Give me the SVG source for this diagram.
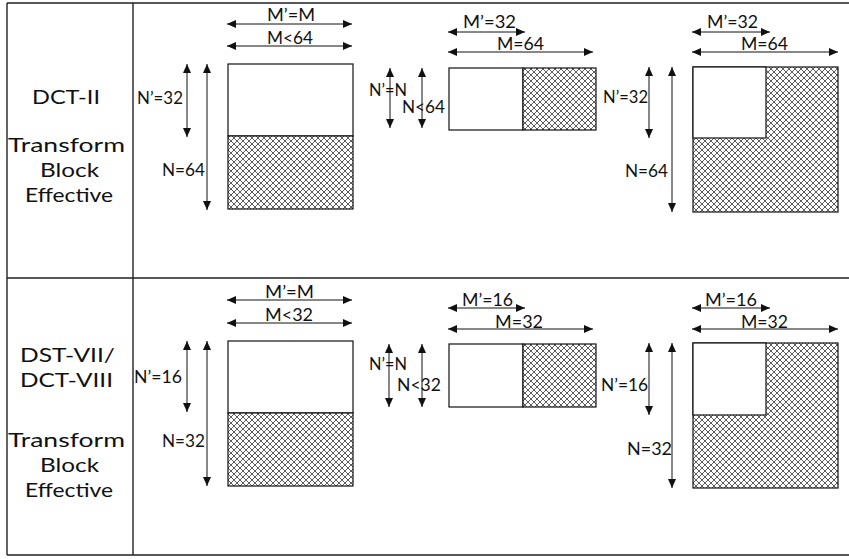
<svg xmlns="http://www.w3.org/2000/svg" width="849" height="559" viewBox="0 0 849 559">
<style>
.grid{stroke:#222;stroke-width:1.4;fill:none}
.blk{stroke:#111;stroke-width:1.2}
.wht{fill:#fff}
.hat{fill:url(#hatch)}
.dim{stroke:#111;stroke-width:1;fill:none;marker-start:url(#ah);marker-end:url(#ah)}
.lbl{font-family:Lato,"Open Sans","Liberation Sans",sans-serif;font-size:16.5px;fill:#111}
.side{font-family:Lato,"Open Sans","Liberation Sans",sans-serif;font-size:20px;fill:#111}
</style>
<defs>
<pattern id="hatch" patternUnits="userSpaceOnUse" width="6" height="6">
<rect width="6" height="6" fill="#fff"/>
<path d="M0,0 L6,6 M6,0 L0,6" stroke="#333" stroke-width="0.8"/>
</pattern>
<marker id="ah" markerUnits="userSpaceOnUse" markerWidth="10" markerHeight="9" refX="9" refY="4" orient="auto-start-reverse">
<path d="M0,0 L9,4 L0,8 z" fill="#111"/>
</marker>
</defs>
<rect width="849" height="559" fill="#fff"/>
<g id="table">
<path class="grid" d="M7,3 H849 M7,278 H849 M7,555 H849 M7,3 V555 M133,3 V555"/>
</g>
<g id="row1-label">
<text class="side" x="32" y="104" textLength="68" lengthAdjust="spacingAndGlyphs">DCT-II</text>
<text class="side" x="8" y="152" textLength="117" lengthAdjust="spacingAndGlyphs">Transform</text>
<text class="side" x="40" y="177" textLength="59" lengthAdjust="spacingAndGlyphs">Block</text>
<text class="side" x="25" y="202" textLength="88" lengthAdjust="spacingAndGlyphs">Effective</text>
</g>
<g id="row2-label">
<text class="side" x="20" y="362" textLength="95" lengthAdjust="spacingAndGlyphs">DST-VII/</text>
<text class="side" x="20" y="387" textLength="93" lengthAdjust="spacingAndGlyphs">DCT-VIII</text>
<text class="side" x="8" y="447" textLength="117" lengthAdjust="spacingAndGlyphs">Transform</text>
<text class="side" x="40" y="472" textLength="59" lengthAdjust="spacingAndGlyphs">Block</text>
<text class="side" x="25" y="497" textLength="88" lengthAdjust="spacingAndGlyphs">Effective</text>
</g>
<g id="block-1a">
<rect class="wht blk" x="228" y="64" width="125" height="72"/>
<rect class="hat blk" x="228" y="136" width="125" height="73"/>
</g>
<g id="block-1b">
<rect class="wht blk" x="449" y="68" width="74" height="62"/>
<rect class="hat blk" x="523" y="68" width="73" height="62"/>
</g>
<g id="block-1c">
<rect class="hat blk" x="693" y="67" width="145" height="145"/>
<rect class="wht blk" x="693" y="67" width="73" height="71"/>
</g>
<g id="block-2a">
<rect class="wht blk" x="228" y="341" width="125" height="72"/>
<rect class="hat blk" x="228" y="413" width="125" height="73"/>
</g>
<g id="block-2b">
<rect class="wht blk" x="449" y="344" width="74" height="63"/>
<rect class="hat blk" x="523" y="344" width="73" height="63"/>
</g>
<g id="block-2c">
<rect class="hat blk" x="693" y="343" width="145" height="145"/>
<rect class="wht blk" x="693" y="343" width="73" height="72"/>
</g>
<g id="connectors">
<line class="dim" x1="227" y1="24" x2="352" y2="24"/>
<line class="dim" x1="227" y1="46" x2="352" y2="46"/>
<line class="dim" x1="187" y1="64" x2="187" y2="137"/>
<line class="dim" x1="207" y1="64" x2="207" y2="210"/>
<line class="dim" x1="448" y1="32" x2="525" y2="32"/>
<line class="dim" x1="448" y1="52" x2="593" y2="52"/>
<line class="dim" x1="390" y1="68" x2="390" y2="128"/>
<line class="dim" x1="422" y1="68" x2="422" y2="128"/>
<line class="dim" x1="692" y1="32" x2="770" y2="32"/>
<line class="dim" x1="692" y1="52" x2="838" y2="52"/>
<line class="dim" x1="649" y1="67" x2="649" y2="138"/>
<line class="dim" x1="672" y1="67" x2="672" y2="212"/>
<line class="dim" x1="227" y1="300" x2="352" y2="300"/>
<line class="dim" x1="227" y1="323" x2="352" y2="323"/>
<line class="dim" x1="187" y1="341" x2="187" y2="412"/>
<line class="dim" x1="207" y1="341" x2="207" y2="486"/>
<line class="dim" x1="448" y1="308" x2="525" y2="308"/>
<line class="dim" x1="448" y1="329" x2="593" y2="329"/>
<line class="dim" x1="389" y1="344" x2="389" y2="407"/>
<line class="dim" x1="422" y1="344" x2="422" y2="407"/>
<line class="dim" x1="692" y1="308" x2="770" y2="308"/>
<line class="dim" x1="692" y1="329" x2="838" y2="329"/>
<line class="dim" x1="649" y1="343" x2="649" y2="415"/>
<line class="dim" x1="672" y1="343" x2="672" y2="488"/>
</g>
<g id="labels">
<text class="lbl" x="267" y="21" textLength="48" lengthAdjust="spacingAndGlyphs">M’=M</text>
<text class="lbl" x="267" y="44" textLength="46" lengthAdjust="spacingAndGlyphs">M&lt;64</text>
<text class="lbl" x="137" y="104" textLength="46" lengthAdjust="spacingAndGlyphs">N’=32</text>
<text class="lbl" x="162" y="176" textLength="43" lengthAdjust="spacingAndGlyphs">N=64</text>
<text class="lbl" x="463" y="28" textLength="53" lengthAdjust="spacingAndGlyphs">M’=32</text>
<text class="lbl" x="497" y="50" textLength="47" lengthAdjust="spacingAndGlyphs">M=64</text>
<text class="lbl" x="369" y="96" textLength="38" lengthAdjust="spacingAndGlyphs">N’=N</text>
<text class="lbl" x="402" y="113" textLength="43" lengthAdjust="spacingAndGlyphs">N&lt;64</text>
<text class="lbl" x="707" y="28" textLength="51" lengthAdjust="spacingAndGlyphs">M’=32</text>
<text class="lbl" x="741" y="50" textLength="47" lengthAdjust="spacingAndGlyphs">M=64</text>
<text class="lbl" x="603" y="103" textLength="45" lengthAdjust="spacingAndGlyphs">N’=32</text>
<text class="lbl" x="625" y="177" textLength="43" lengthAdjust="spacingAndGlyphs">N=64</text>
<text class="lbl" x="265" y="298" textLength="49" lengthAdjust="spacingAndGlyphs">M’=M</text>
<text class="lbl" x="265" y="321" textLength="48" lengthAdjust="spacingAndGlyphs">M&lt;32</text>
<text class="lbl" x="134" y="383" textLength="48" lengthAdjust="spacingAndGlyphs">N’=16</text>
<text class="lbl" x="162" y="447" textLength="43" lengthAdjust="spacingAndGlyphs">N=32</text>
<text class="lbl" x="462" y="306" textLength="51" lengthAdjust="spacingAndGlyphs">M’=16</text>
<text class="lbl" x="495" y="328" textLength="48" lengthAdjust="spacingAndGlyphs">M=32</text>
<text class="lbl" x="369" y="370" textLength="38" lengthAdjust="spacingAndGlyphs">N’=N</text>
<text class="lbl" x="397" y="391" textLength="44" lengthAdjust="spacingAndGlyphs">N&lt;32</text>
<text class="lbl" x="705" y="306" textLength="52" lengthAdjust="spacingAndGlyphs">M’=16</text>
<text class="lbl" x="741" y="328" textLength="47" lengthAdjust="spacingAndGlyphs">M=32</text>
<text class="lbl" x="601" y="391" textLength="47" lengthAdjust="spacingAndGlyphs">N’=16</text>
<text class="lbl" x="627" y="455" textLength="45" lengthAdjust="spacingAndGlyphs">N=32</text>
</g>
</svg>
